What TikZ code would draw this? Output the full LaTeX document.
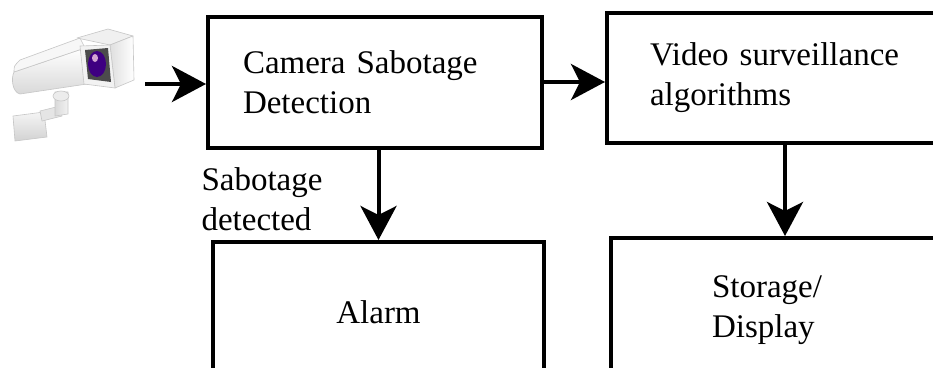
\documentclass[tikz,border=0pt]{standalone}
\usepackage{fontspec}
\setmainfont{Liberation Serif}
\usetikzlibrary{arrows.meta}
\tikzset{
  BlockStyle/.style = { rectangle, draw, line width = 4pt,
                       font = \fontsize{33}{40}\selectfont },
  ArrowStyle/.style = { line width = 4pt,
                       -{Stealth[length=34pt, width=36pt, inset=9pt]} },
  TextStyle/.style = { font = \fontsize{33}{40}\selectfont } }

\begin{document}
\begin{tikzpicture}[x=1pt,y=-1pt]
  \clip (0,0) rectangle (933,367);
  \fill[white] (0,0) rectangle (933,367);

  \tikzstyle{CamStyle}=[draw=gray!45, line width=0.6pt, line join=round]
  % wall plate and arm
  \path[CamStyle, top color=gray!8, bottom color=gray!35]
    (13,116) -- (44,112) -- (47,137) -- (15,141) -- cycle;
  \path[CamStyle, fill=gray!20] (40,111) -- (60,106) -- (62,116) -- (42,121) -- cycle;
  \path[CamStyle, left color=gray!30, right color=gray!10]
    (55,92) -- (68,92) -- (68,114) -- (55,116) -- cycle;
  \path[CamStyle, fill=gray!15] (61,96) ellipse (8 and 5);
  % housing
  \path[CamStyle, top color=white, bottom color=gray!30]
    (14,72) -- (85,48) -- (87,84) -- (20,94)
    .. controls (12,92) and (11,78) .. cycle;
  \path[CamStyle, fill=gray!6]
    (20,60) -- (80,38) -- (85,48) -- (14,72) .. controls (14,66) .. cycle;
  % hood
  \path[CamStyle, fill=gray!12] (77,38) -- (108,29) -- (133,36) -- (110,45) -- cycle;
  \path[CamStyle, left color=gray!25, right color=white]
    (110,45) -- (133,36) -- (134,80) -- (115,88) -- cycle;
  \path[CamStyle, fill=gray!10] (80,46) -- (110,45) -- (115,88) -- (84,84) -- cycle;
  % lens
  \fill[gray!60!black] (85,50) -- (108,48) -- (111,82) -- (88,79) -- cycle;
  \fill[violet!65!blue!75!black] (97,64) ellipse (9 and 13);
  \fill[violet!35!white] (95,58) ellipse (3 and 4);

  \coordinate (cam) at (145,84);

  \node[BlockStyle, text width=264pt, inner xsep=35pt, align=left,
        minimum height=131pt] (detect) at (375,82)
        {Camera Sabotage\\Detection};
  \node[BlockStyle, text width=270pt, inner xsep=43pt, align=left,
        minimum height=130pt] (video) at (785,78)
        {Video surveillance\\algorithms};
  \node[BlockStyle, minimum width=331pt, minimum height=140pt] (alarm)
        at (378.5,312) {Alarm};
  \node[BlockStyle, text width=200pt, inner xsep=101pt, align=left,
        minimum height=144pt] (storage) at (812,310)
        {Storage/\\Display};

  \node[TextStyle, align=left, anchor=west] (sabotage) at (198,199)
        {Sabotage\\detected};

  \draw[ArrowStyle] (cam) -- (cam -| detect.west);
  \draw[ArrowStyle] (detect.east) -- (detect.east -| video.west);
  \draw[ArrowStyle] (detect.south -| alarm.north) -- (alarm.north);
  \draw[ArrowStyle] (video.south) -- (video.south |- storage.north);
\end{tikzpicture}
\end{document}
